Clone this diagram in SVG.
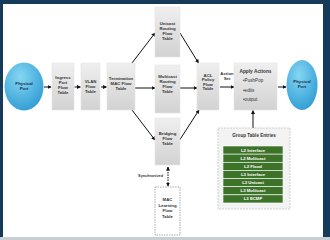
<svg xmlns="http://www.w3.org/2000/svg" width="330" height="240" viewBox="0 0 330 240">
<style>
.t{font-family:"Liberation Sans",Arial,sans-serif;font-size:4.3px;font-weight:bold;fill:#333;text-anchor:middle}
.w{font-family:"Liberation Sans",Arial,sans-serif;font-size:4.3px;font-weight:bold;fill:#fff;text-anchor:middle}
.box{fill:url(#g);stroke:#e4e4e4;stroke-width:0.6}
.ln{stroke:#111;stroke-width:1;fill:none;marker-end:url(#ah)}
.row{fill:#3d7229;stroke:#fff;stroke-width:0.6}
</style>
<defs>
<linearGradient id="g" x1="0" y1="0" x2="0" y2="1"><stop offset="0" stop-color="#efefef"/><stop offset="1" stop-color="#d2d2d2"/></linearGradient>
<radialGradient id="eg" cx="0.4" cy="0.3" r="0.8"><stop offset="0" stop-color="#84d6f2"/><stop offset="1" stop-color="#2a98d2"/></radialGradient>
<marker id="ah" markerWidth="4" markerHeight="4" refX="3.5" refY="2" orient="auto" markerUnits="userSpaceOnUse"><path d="M0,0 L4,2 L0,4 Z" fill="#111"/></marker>
<marker id="ahs" markerWidth="4" markerHeight="4" refX="0.5" refY="2" orient="auto" markerUnits="userSpaceOnUse"><path d="M4,0 L0,2 L4,4 Z" fill="#111"/></marker>
</defs>
<rect x="0" y="0" width="330" height="240" fill="#163a5a"/>
<rect x="3" y="4" width="320" height="233" fill="#fff"/>
<rect x="0" y="237" width="330" height="3" fill="#c9ced3"/>

<g id="connectors">
<line class="ln" x1="44" y1="87" x2="51" y2="87"/>
<line class="ln" x1="74.5" y1="87" x2="80.5" y2="87"/>
<line class="ln" x1="101" y1="87" x2="106.5" y2="87"/>
<line class="ln" x1="132" y1="63" x2="155" y2="33"/>
<line class="ln" x1="135" y1="88" x2="155" y2="88"/>
<line class="ln" x1="132" y1="110" x2="155" y2="140"/>
<line class="ln" x1="180" y1="33" x2="198.5" y2="63"/>
<line class="ln" x1="180" y1="88" x2="197" y2="88"/>
<line class="ln" x1="179" y1="141" x2="199" y2="110"/>
<line class="ln" x1="220" y1="87" x2="234" y2="87"/>
<line class="ln" x1="278" y1="87" x2="286" y2="87"/>
<line class="ln" x1="253" y1="128" x2="253" y2="110.5"/>
<line x1="168" y1="167" x2="168" y2="186" stroke="#111" stroke-width="1" stroke-dasharray="1.5,1" marker-start="url(#ahs)" marker-end="url(#ah)"/>
<text class="t" x="163" y="176.5" style="text-anchor:end;font-size:3.8px">Synchronized</text>
<text class="t" x="227" y="75">Action</text>
<text class="t" x="227" y="80">Set</text>
</g>

<g id="port-in">
<ellipse cx="24" cy="86.5" rx="19.5" ry="24" fill="url(#eg)"/>
<text class="t" x="24" y="85" style="fill:#1b2f4a">Physical</text>
<text class="t" x="24" y="90" style="fill:#1b2f4a">Port</text>
</g>
<g id="ingress">
<rect class="box" x="52" y="63" width="22" height="47"/>
<text class="t" x="63" y="79">Ingress</text>
<text class="t" x="63" y="84">Port</text>
<text class="t" x="63" y="89">Flow</text>
<text class="t" x="63" y="94">Table</text>
</g>
<g id="vlan">
<rect class="box" x="81" y="63" width="19" height="47"/>
<text class="t" x="90.5" y="83">VLAN</text>
<text class="t" x="90.5" y="88">Flow</text>
<text class="t" x="90.5" y="93">Table</text>
</g>
<g id="termination">
<rect class="box" x="107" y="63" width="28" height="47"/>
<text class="t" x="121" y="80">Termination</text>
<text class="t" x="121" y="85">MAC Flow</text>
<text class="t" x="121" y="90">Table</text>
</g>
<g id="unicast">
<rect class="box" x="155" y="7" width="25" height="50"/>
<text class="t" x="167.5" y="25">Unicast</text>
<text class="t" x="167.5" y="30">Routing</text>
<text class="t" x="167.5" y="35">Flow</text>
<text class="t" x="167.5" y="40">Table</text>
</g>
<g id="multicast">
<rect class="box" x="155" y="65" width="25" height="48"/>
<text class="t" x="167.5" y="78">Multicast</text>
<text class="t" x="167.5" y="83">Routing</text>
<text class="t" x="167.5" y="88">Flow</text>
<text class="t" x="167.5" y="93">Table</text>
</g>
<g id="bridging">
<rect class="box" x="155" y="118" width="25" height="47"/>
<text class="t" x="167.5" y="135">Bridging</text>
<text class="t" x="167.5" y="140">Flow</text>
<text class="t" x="167.5" y="145">Table</text>
</g>
<g id="mac-learning">
<rect x="155" y="187" width="25" height="48" fill="#fff" stroke="#888" stroke-width="0.7" stroke-dasharray="1.5,1"/>
<text class="t" x="167.5" y="201">MAC</text>
<text class="t" x="167.5" y="206.5">Learning</text>
<text class="t" x="167.5" y="212">Flow</text>
<text class="t" x="167.5" y="217.5">Table</text>
</g>
<g id="acl">
<rect class="box" x="197" y="63" width="22" height="47"/>
<text class="t" x="208" y="76.5">ACL</text>
<text class="t" x="208" y="81">Policy</text>
<text class="t" x="208" y="85.5">Flow</text>
<text class="t" x="208" y="90">Table</text>
</g>
<g id="apply-actions">
<rect class="box" x="234" y="63" width="43" height="47"/>
<text class="t" x="255.5" y="72.5" style="font-size:4.8px">Apply Actions</text>
<text class="t" x="243" y="82" style="text-anchor:start;font-weight:normal;font-size:4.6px">•PushPop</text>
<text class="t" x="243" y="91.5" style="text-anchor:start;font-weight:normal;font-size:4.6px">•edits</text>
<text class="t" x="243" y="101" style="text-anchor:start;font-weight:normal;font-size:4.6px">•output</text>
</g>
<g id="port-out">
<ellipse cx="302" cy="85" rx="15.5" ry="25" fill="url(#eg)"/>
<text class="t" x="302" y="83" style="fill:#1b2f4a">Physical</text>
<text class="t" x="302" y="88" style="fill:#1b2f4a">Port</text>
</g>
<g id="group-table">
<rect x="218" y="128" width="72" height="81" fill="#f3f3f3" stroke="#bdbdbd" stroke-width="0.7" stroke-dasharray="2,1"/>
<text class="t" x="254" y="136.5" style="font-size:4.6px">Group Table Entries</text>
<rect class="row" x="223" y="146" width="60" height="8.14"/>
<rect class="row" x="223" y="154.14" width="60" height="8.14"/>
<rect class="row" x="223" y="162.28" width="60" height="8.14"/>
<rect class="row" x="223" y="170.42" width="60" height="8.14"/>
<rect class="row" x="223" y="178.56" width="60" height="8.14"/>
<rect class="row" x="223" y="186.7" width="60" height="8.14"/>
<rect class="row" x="223" y="194.84" width="60" height="8.14"/>
<text class="w" x="253" y="151.6">L2 Interface</text>
<text class="w" x="253" y="159.7">L2 Multicast</text>
<text class="w" x="253" y="167.8">L2 Flood</text>
<text class="w" x="253" y="176">L3 Interface</text>
<text class="w" x="253" y="184.1">L3 Unicast</text>
<text class="w" x="253" y="192.3">L3 Multicast</text>
<text class="w" x="253" y="200.4">L3 ECMP</text>
</g>
</svg>
